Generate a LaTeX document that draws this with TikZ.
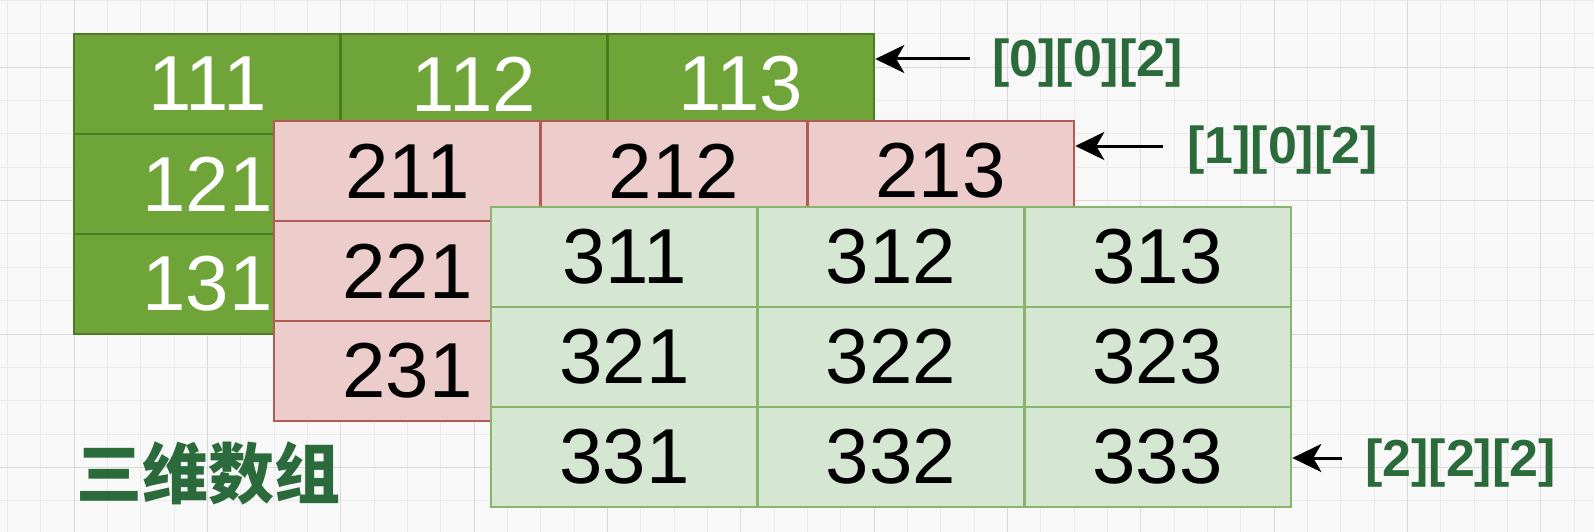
\documentclass[tikz,border=0pt]{standalone}
\usepackage{fontspec}
\setmainfont{Liberation Sans}
\newfontfamily\cjk{Noto Sans CJK SC}
\usetikzlibrary{arrows.meta}
\definecolor{paper}{HTML}{F8F8F8}
\definecolor{gridminor}{HTML}{EAEAEA}
\definecolor{gridmajor}{HTML}{D9D9D9}
\definecolor{afill}{HTML}{6FA438}
\definecolor{aline}{HTML}{4A7D1F}
\definecolor{bfill}{HTML}{EDCDCB}
\definecolor{bline}{HTML}{B25A55}
\definecolor{cfill}{HTML}{D5E6D2}
\definecolor{cline}{HTML}{88B46B}
\definecolor{idxgreen}{HTML}{2B6A3B}
\tikzset{
  cell/.style={draw, line width=2.6pt, minimum width=266.67pt, minimum height=100pt,
    inner sep=0pt, font=\fontsize{78}{80}\selectfont},
  acell/.style={cell, fill=afill, draw=aline, text=white},
  bcell/.style={cell, fill=bfill, draw=bline, text=black},
  ccell/.style={cell, fill=cfill, draw=cline, text=black},
  idx/.style={anchor=west, inner sep=0pt, text=idxgreen, font=\fontsize{52}{54}\selectfont\bfseries},
  arr/.style={-{Stealth[length=29pt,width=28pt,inset=8pt]}, line width=3pt},
}
\begin{document}
\begin{tikzpicture}[x=1pt, y=-1pt]
  \useasboundingbox (0,0) rectangle (1594,532);
  \clip (0,0) rectangle (1594,532);
  \fill[paper] (0,0) rectangle (1594,532);
  \begin{scope}[shift={(74,67.333)}]
    \draw[gridminor, line width=1pt, step=33.333pt] (-100,-100) grid (1550,500);
    \draw[gridmajor, line width=1pt, step=133.333pt] (-100,-100) grid (1550,500);
  \end{scope}
  % the three layers, back to front
  \foreach \r in {1,2,3}
    \foreach \c in {1,2,3}
      \node[acell] (a\r\c) at ({74+266.667*(\c-0.5)},{34+100*(\r-0.5)}) {1\r\c};
  \foreach \r in {1,2,3}
    \foreach \c in {1,2,3}
      \node[bcell] (b\r\c) at ({274+266.667*(\c-0.5)},{121+100*(\r-0.5)}) {2\r\c};
  \foreach \r in {1,2,3}
    \foreach \c in {1,2,3}
      \node[ccell] (c\r\c) at ({491+266.667*(\c-0.5)},{207+100*(\r-0.5)}) {3\r\c};
  % index labels
  \node[idx] (la) at (992,63) {[0][0][2]};
  \node[idx] (lb) at (1187,150) {[1][0][2]};
  \node[idx] (lc) at (1365,463) {[2][2][2]};
  \coordinate (sa) at (970,59);
  \coordinate (sb) at (1163,146);
  \coordinate (sc) at (1342,458);
  \draw[arr] (sa) -- (sa -| a13.east);
  \draw[arr] (sb) -- (sb -| b13.east);
  \draw[arr] (sc) -- (sc -| c33.east);
  \node[anchor=west, inner sep=0pt, text=idxgreen, font=\cjk\bfseries\fontsize{66}{68}\selectfont] (title) at (76,473) {三维数组};
\end{tikzpicture}
\end{document}
